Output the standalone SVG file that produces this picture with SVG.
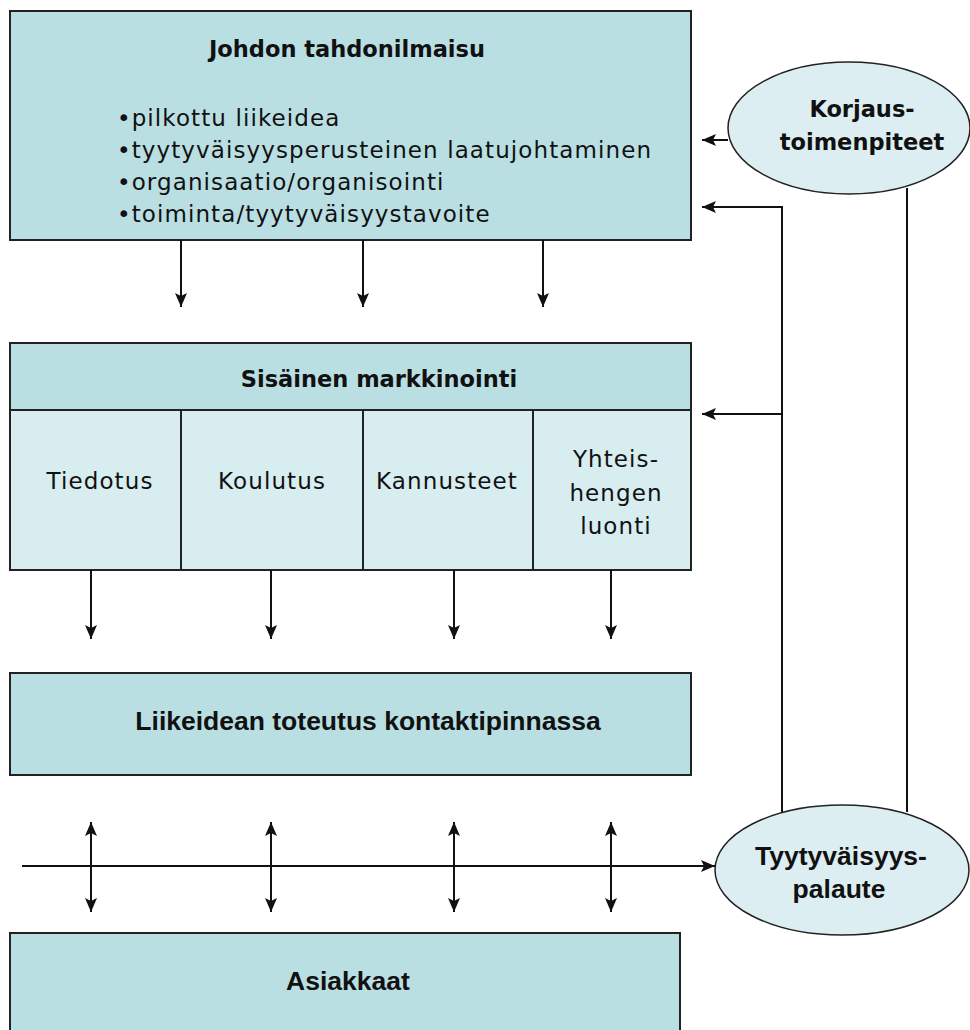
<svg xmlns="http://www.w3.org/2000/svg" width="970" height="1030" viewBox="0 0 970 1030">
<style>
.box{fill:#b9dfe3;stroke:#222;stroke-width:2}
.cell{fill:#d7edf0;stroke:#222;stroke-width:2}
.ell{fill:#ddeef2;stroke:#222;stroke-width:1.5}
.ln{fill:none;stroke:#111;stroke-width:2}
.t{font-family:"DejaVu Sans",Verdana,sans-serif;font-size:23px;fill:#111;letter-spacing:1.1px}
.tb{font-family:"DejaVu Sans",Verdana,sans-serif;font-size:22.5px;font-weight:bold;fill:#111}
.gb{font-family:"Liberation Sans",Arial,sans-serif;font-size:26.5px;font-weight:bold;fill:#111}
</style>
<defs>
<marker id="ah" viewBox="0 0 14 12" refX="14" refY="6" markerWidth="14" markerHeight="12" markerUnits="userSpaceOnUse" orient="auto-start-reverse">
<path d="M0,0 L14,6 L0,12 L3,6 z" fill="#111"/>
</marker>
</defs>

<g id="johdon">
<rect class="box" x="10" y="11" width="681" height="229"/>
<text class="tb" x="347" y="57" text-anchor="middle">Johdon tahdonilmaisu</text>
<text class="t" x="117" y="126">•pilkottu liikeidea</text>
<text class="t" x="117" y="158">•tyytyväisyysperusteinen laatujohtaminen</text>
<text class="t" x="117" y="190">•organisaatio/organisointi</text>
<text class="t" x="117" y="222">•toiminta/tyytyväisyystavoite</text>
</g>

<g id="sisainen">
<rect class="box" x="10" y="343" width="681" height="67"/>
<text class="tb" x="379" y="387" text-anchor="middle">Sisäinen markkinointi</text>
<rect class="cell" x="10" y="410" width="171" height="160"/>
<rect class="cell" x="181" y="410" width="182" height="160"/>
<rect class="cell" x="363" y="410" width="170" height="160"/>
<rect class="cell" x="533" y="410" width="158" height="160"/>
<text class="t" x="100" y="489" text-anchor="middle" letter-spacing="1">Tiedotus</text>
<text class="t" x="272" y="489" text-anchor="middle" letter-spacing="1">Koulutus</text>
<text class="t" x="447" y="489" text-anchor="middle" letter-spacing="1">Kannusteet</text>
<text class="t" x="616" y="467" text-anchor="middle" letter-spacing="1">Yhteis-</text>
<text class="t" x="616" y="501" text-anchor="middle" letter-spacing="1">hengen</text>
<text class="t" x="616" y="534" text-anchor="middle" letter-spacing="1">luonti</text>
</g>

<g id="liikeidean">
<rect class="box" x="10" y="673" width="681" height="102"/>
<text class="gb" x="368" y="730" text-anchor="middle">Liikeidean toteutus kontaktipinnassa</text>
</g>

<g id="asiakkaat">
<rect class="box" x="10" y="933" width="670" height="110"/>
<text class="gb" x="348" y="990" text-anchor="middle">Asiakkaat</text>
</g>

<g id="korjaus">
<ellipse class="ell" cx="849" cy="128" rx="121" ry="66"/>
<text class="tb" x="862" y="117" text-anchor="middle" font-size="23">Korjaus-</text>
<text class="tb" x="862" y="150" text-anchor="middle" font-size="23">toimenpiteet</text>
</g>

<g id="tyytyvaisyys">
<ellipse class="ell" cx="842" cy="870" rx="127" ry="65"/>
<text class="gb" x="841" y="865" text-anchor="middle" font-size="26">Tyytyväisyys-</text>
<text class="gb" x="839" y="898" text-anchor="middle" font-size="26">palaute</text>
</g>

<g id="connectors">
<line class="ln" x1="181" y1="240" x2="181" y2="307" marker-end="url(#ah)"/>
<line class="ln" x1="363" y1="240" x2="363" y2="307" marker-end="url(#ah)"/>
<line class="ln" x1="543" y1="240" x2="543" y2="307" marker-end="url(#ah)"/>

<line class="ln" x1="91" y1="570" x2="91" y2="639" marker-end="url(#ah)"/>
<line class="ln" x1="271" y1="570" x2="271" y2="639" marker-end="url(#ah)"/>
<line class="ln" x1="454" y1="570" x2="454" y2="639" marker-end="url(#ah)"/>
<line class="ln" x1="611" y1="570" x2="611" y2="639" marker-end="url(#ah)"/>

<line class="ln" x1="91" y1="822" x2="91" y2="912" marker-start="url(#ah)" marker-end="url(#ah)"/>
<line class="ln" x1="271" y1="822" x2="271" y2="912" marker-start="url(#ah)" marker-end="url(#ah)"/>
<line class="ln" x1="454" y1="822" x2="454" y2="912" marker-start="url(#ah)" marker-end="url(#ah)"/>
<line class="ln" x1="611" y1="822" x2="611" y2="912" marker-start="url(#ah)" marker-end="url(#ah)"/>

<line class="ln" x1="22" y1="866" x2="715" y2="866" marker-end="url(#ah)"/>

<line class="ln" x1="728" y1="140" x2="702" y2="140" marker-end="url(#ah)"/>
<polyline class="ln" points="782,812 782,207 702,207" marker-end="url(#ah)"/>
<line class="ln" x1="782" y1="414" x2="702" y2="414" marker-end="url(#ah)"/>
<line class="ln" x1="907" y1="188" x2="907" y2="812"/>
</g>
</svg>
